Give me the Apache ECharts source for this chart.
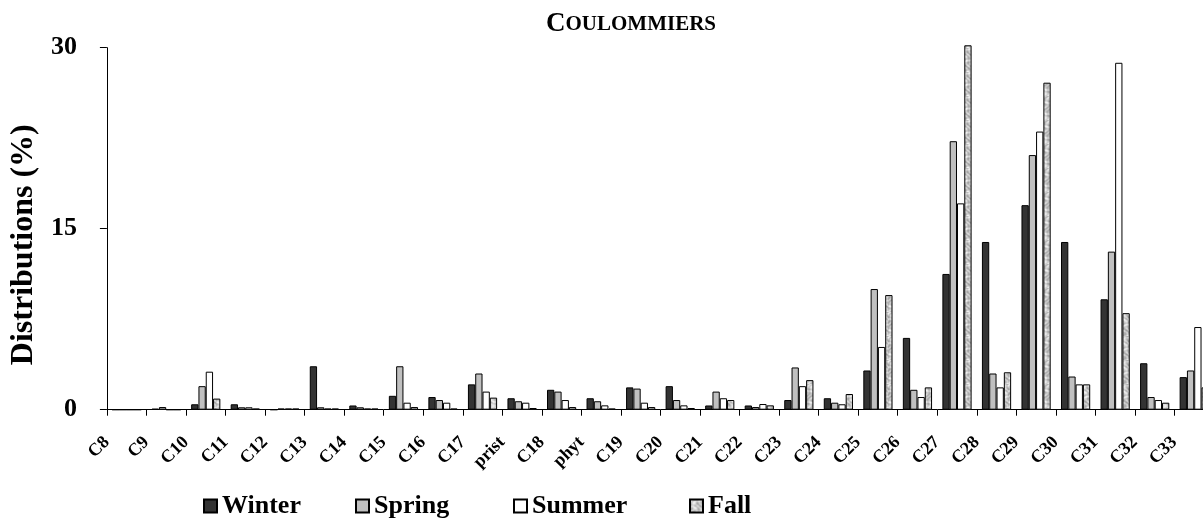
<!DOCTYPE html>
<html>
<head>
<meta charset="utf-8">
<script src="https://cdn.jsdelivr.net/npm/echarts@6/dist/echarts.min.js"></script>
<style>
  html, body { margin: 0; padding: 0; background: #fff; overflow: hidden; }
  /* the plot runs slightly past the right edge of the window */
  #chart { width: 1214px; height: 526px; }
</style>
</head>
<body>
<div id="chart"></div>
<script>
// Hydrocarbon classes (n-alkanes plus pristane / phytane)
const categories = ['C8','C9','C10','C11','C12','C13','C14','C15','C16','C17','prist','C18','phyt','C19','C20','C21','C22','C23','C24','C25','C26','C27','C28','C29','C30','C31','C32','C33'];

// Seasonal distributions (%)
const winter = [0, 0.08, 0.45, 0.45, 0, 3.6, 0.35, 1.15, 1.05, 2.1, 0.95, 1.65, 0.95, 1.85, 1.95, 0.35, 0.35, 0.8, 0.95, 3.25, 5.95, 11.25, 13.9, 16.95, 13.9, 9.15, 3.85, 2.7];
const spring = [0, 0.22, 1.95, 0.2, 0.1, 0.2, 0.2, 3.6, 0.8, 3.0, 0.7, 1.5, 0.7, 1.75, 0.8, 1.5, 0.22, 3.5, 0.58, 10.0, 1.65, 22.25, 3.0, 21.1, 2.75, 13.1, 1.05, 3.25];
const summer = [0, 0, 3.15, 0.2, 0.1, 0.1, 0.1, 0.58, 0.58, 1.5, 0.58, 0.8, 0.36, 0.58, 0.36, 0.95, 0.47, 1.95, 0.45, 5.2, 1.05, 17.1, 1.85, 23.05, 2.1, 28.75, 0.8, 6.85];
const fall   = [0, 0, 0.92, 0.1, 0.1, 0.1, 0.1, 0.22, 0.1, 1.0, 0.14, 0.22, 0.1, 0.22, 0.14, 0.8, 0.36, 2.45, 1.3, 9.5, 1.85, 30.2, 3.1, 27.1, 2.1, 8.0, 0.58, 1.85];

const seasons = ['Winter', 'Spring', 'Summer', 'Fall'];
const yTicks = [0, 15, 30];

// Mottled grey texture for the "Fall" bars
function marbleTexture() {
  const size = 24;
  const c = document.createElement('canvas');
  c.width = size; c.height = size;
  const ctx = c.getContext('2d');
  const img = ctx.createImageData(size, size);
  for (let y = 0; y < size; y++) {
    for (let x = 0; x < size; x++) {
      const a = Math.sin(x * 0.78 + 2.2 * Math.sin(y * 0.52)) * Math.cos(y * 0.65 + 1.6 * Math.sin(x * 0.39));
      const b = Math.sin((x + y) * 1.05) * 0.35;
      let v = 205 + 38 * a + 18 * b;
      v = Math.max(110, Math.min(240, v));
      const i = (y * size + x) * 4;
      img.data[i] = v; img.data[i + 1] = v; img.data[i + 2] = v; img.data[i + 3] = 255;
    }
  }
  ctx.putImageData(img, 0, 0);
  return c;
}

const serif = '"Liberation Serif", "Times New Roman", serif';
const barW = 7.3;

function barSeries(name, data, fill) {
  return {
    name: name,
    type: 'bar',
    data: data,
    barWidth: barW,
    barGap: '0%',
    clip: false,
    itemStyle: { color: fill, borderColor: '#000', borderWidth: 1 }
  };
}

// one legend block per season so each entry sits at its own spot
const legendLefts = [203, 355, 513, 689];
const legends = seasons.map((s, i) => ({
  data: [s],
  left: legendLefts[i],
  top: 493,
  padding: 0,
  itemWidth: 13,
  itemHeight: 13,
  icon: 'rect',
  selectedMode: false,
  textStyle: { fontFamily: serif, fontWeight: 'bold', fontSize: 26, color: '#000' }
}));

const chart = echarts.init(document.getElementById('chart'), null, { renderer: 'canvas' });

chart.setOption({
  animation: false,
  backgroundColor: '#fff',
  title: {
    text: '{a|C}{b|OULOMMIERS}',
    left: 541,
    top: 6,
    textStyle: {
      rich: {
        a: { fontFamily: serif, fontWeight: 'bold', fontSize: 27, color: '#000' },
        b: { fontFamily: serif, fontWeight: 'bold', fontSize: 21, color: '#000' }
      }
    }
  },
  legend: legends,
  grid: { left: 98, right: 0, top: 47.7, bottom: 116.3, containLabel: false },
  xAxis: {
    type: 'category',
    data: categories,
    boundaryGap: true,
    axisLine: { lineStyle: { color: '#000', width: 1 } },
    axisTick: { show: true, interval: 0, length: 6, lineStyle: { color: '#000' } },
    axisLabel: {
      interval: 0,
      rotate: 45,
      margin: 10,
      padding: [0, 28, 0, 0],
      fontFamily: serif,
      fontWeight: 'bold',
      fontSize: 18,
      color: '#000'
    },
    splitLine: { show: false }
  },
  yAxis: {
    type: 'value',
    min: yTicks[0],
    max: yTicks[yTicks.length - 1],
    interval: yTicks[1] - yTicks[0],
    name: 'Distributions (%)',
    nameLocation: 'middle',
    nameRotate: 90,
    nameGap: 54,
    nameTextStyle: { fontFamily: serif, fontWeight: 'bold', fontSize: 32, color: '#000', padding: [0, 32, 0, 0] },
    axisLine: { show: true, lineStyle: { color: '#000', width: 1 } },
    axisTick: { show: true, length: 7, lineStyle: { color: '#000' } },
    axisLabel: { margin: 30, fontFamily: serif, fontWeight: 'bold', fontSize: 26, color: '#000' },
    splitLine: { show: false }
  },
  series: [
    barSeries(seasons[0], winter, '#333333'),
    barSeries(seasons[1], spring, '#c0c0c0'),
    barSeries(seasons[2], summer, '#ffffff'),
    barSeries(seasons[3], fall, { image: marbleTexture(), repeat: 'repeat' })
  ]
});
</script>
</body>
</html>
